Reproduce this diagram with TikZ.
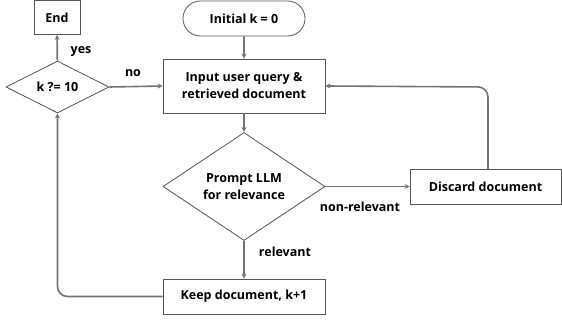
\documentclass[tikz,border=0pt]{standalone}
\usepackage{fontspec}
\setmainfont{Open Sans}
\usetikzlibrary{shapes.geometric,shapes.misc,arrows.meta}
\definecolor{arrowc}{RGB}{122,112,122}
\definecolor{boxc}{RGB}{85,85,85}
\tikzset{
  x=1pt,y=-1pt,
  every node/.style={font=\fontsize{12.5}{17}\selectfont\bfseries, text=black},
  boxnode/.style={draw=boxc, line width=0.8pt, rectangle, inner sep=0pt, align=center},
  diamnode/.style={draw=boxc, line width=0.8pt, diamond, inner sep=0pt, align=center},
  pillnode/.style={draw=boxc, line width=0.8pt, rounded rectangle, inner sep=0pt, align=center},
  conn/.style={draw=arrowc, line width=1.6pt, -{Stealth[length=5pt,width=5pt]}, rounded corners=10pt},
  lbl/.style={inner sep=0pt}
}
\begin{document}
\begin{tikzpicture}
\useasboundingbox (0,0) rectangle (562,320);
\node[boxnode, minimum width=46pt, minimum height=34pt] (end) at (57,17.5) {End};
\node[diamnode, minimum width=103pt, minimum height=52pt] (kd) at (57.5,87) {k ?= 10};
\node[pillnode, minimum width=122pt, minimum height=35pt] (init) at (244,18.5) {Initial k = 0};
\node[boxnode, minimum width=162pt, minimum height=54pt] (input) at (244,86) {Input user query \&\\retrieved document};
\node[diamnode, minimum width=162pt, minimum height=99pt] (prompt) at (244,186.5) {Prompt LLM\\for relevance};
\node[boxnode, minimum width=151pt, minimum height=35pt] (discard) at (485.5,186.5) {Discard document};
\node[boxnode, minimum width=162pt, minimum height=35pt] (keep) at (244,296.5) {Keep document, k+1};
\coordinate (dtop) at (488,169);
\coordinate (dturn) at (488,87);
\coordinate (kturn) at (57.5,296.5);
\node[lbl] (yes) at (81,52) {yes};
\node[lbl] (no) at (133,73) {no};
\node[lbl] (rel) at (285,252) {relevant};
\node[lbl] (nonrel) at (360,207) {non-relevant};
\draw[conn] (init) -- (input);
\draw[conn] (input) -- (prompt);
\draw[conn] (prompt) -- (keep);
\draw[conn] (prompt) -- (discard);
\draw[conn] (dtop) -- (dturn) -- (input.east);
\draw[conn] (keep.west) -- (kturn) -- (kd.south);
\draw[conn] (kd) -- (end);
\draw[conn] (kd.east) -- (input.west);
\end{tikzpicture}
\end{document}
